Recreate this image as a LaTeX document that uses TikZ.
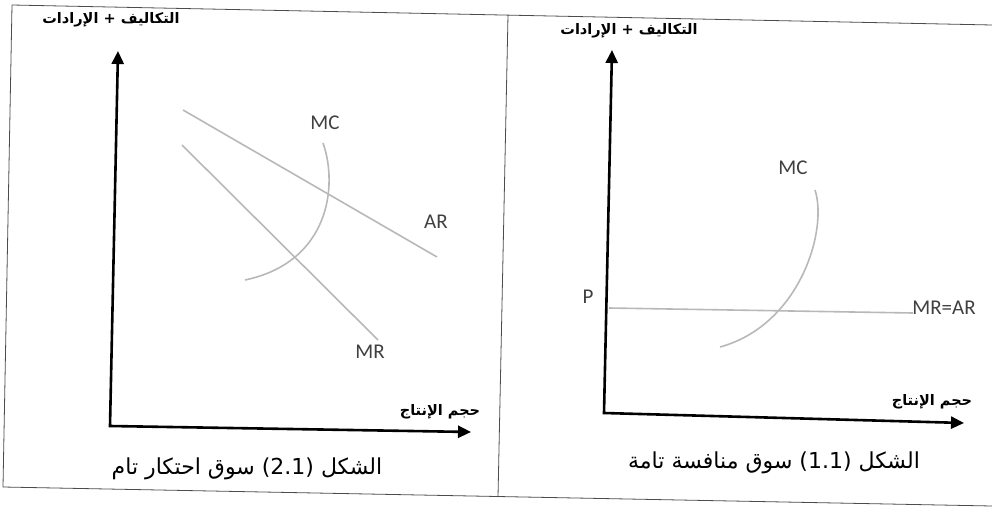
\documentclass[tikz,border=0pt]{standalone}
\usepackage{fontspec}
\setmainfont{Carlito}
\newfontfamily\arabicfont[Script=Arabic]{DejaVu Sans}
\TeXXeTstate=1
\usetikzlibrary{arrows.meta}

\begin{document}
\begin{tikzpicture}[x=1pt,y=-1pt,
    frame/.style={draw=black!70,line width=0.8pt},
    axis/.style={line width=2.6pt,{Triangle[length=13pt,width=12pt]}-{Triangle[length=13pt,width=12pt]}},
    curve/.style={draw=black!28,line width=1.6pt},
    lbl/.style={text=black!75,font=\fontsize{21}{21}\selectfont,inner sep=0pt},
    axlbl/.style={font=\arabicfont\bfseries\fontsize{14.5}{14.5}\selectfont,inner sep=0pt},
    caption/.style={font=\arabicfont\fontsize{22}{22}\selectfont,inner sep=0pt}]
  \useasboundingbox (0,0) rectangle (992,508);
  % frame of the two panels (scan is slightly tilted)
  \draw[frame] (12,5) -- (992,25) (12,5) -- (3,487) -- (992,506) (508,15) -- (498,497);

  % left panel: monopoly
  \coordinate (oA) at (110,426);
  \coordinate (yA) at (118,51);
  \coordinate (xA) at (471,432);
  \draw[axis] (yA) -- (oA) -- (xA);
  \node[axlbl] (costA) at (111,20) {\beginR التكاليف + الإرادات\endR};
  \node[axlbl] (qtyA) at (440,412) {\beginR حجم الإنتاج\endR};
  \coordinate (arA1) at (183,110);
  \coordinate (arA2) at (437,257);
  \coordinate (mrA1) at (182,145);
  \coordinate (mrA2) at (378,340);
  \coordinate (mcA1) at (323,143);
  \coordinate (mcA2) at (245,280);
  \draw[curve] (arA1) -- (arA2);
  \draw[curve] (mrA1) -- (mrA2);
  \draw[curve] (mcA1) .. controls (338,185) and (330,262) .. (mcA2);
  \node[lbl] (mcA) at (325,123) {MC};
  \node[lbl] (arA) at (436,222) {AR};
  \node[lbl] (mrA) at (370,352) {MR};
  \node[caption] (capA) at (247,469) {\beginR الشكل \beginL(2.1)\endL{} سوق احتكار تام\endR};

  % right panel: perfect competition
  \coordinate (oB) at (604,413);
  \coordinate (yB) at (612,50);
  \coordinate (xB) at (964,423);
  \draw[axis] (yB) -- (oB) -- (xB);
  \node[axlbl] (costB) at (629,31) {\beginR التكاليف + الإرادات\endR};
  \node[axlbl] (qtyB) at (932,402) {\beginR حجم الإنتاج\endR};
  \coordinate (mrB1) at (609,308);
  \coordinate (mrB2) at (913,313);
  \draw[curve] (mrB1) -- (mrB2);
  \coordinate (mcB1) at (815,190);
  \coordinate (mcB2) at (720,347);
  \draw[curve] (mcB1) .. controls (828,230) and (800,325) .. (mcB2);
  \node[lbl] (mcB) at (793,168) {MC};
  \node[lbl] (pB) at (588,297) {P};
  \node[lbl] (mrarB) at (944,308) {MR=AR};
  \node[caption] (capB) at (774,463) {\beginR الشكل \beginL(1.1)\endL{} سوق منافسة تامة\endR};
\end{tikzpicture}
\end{document}
